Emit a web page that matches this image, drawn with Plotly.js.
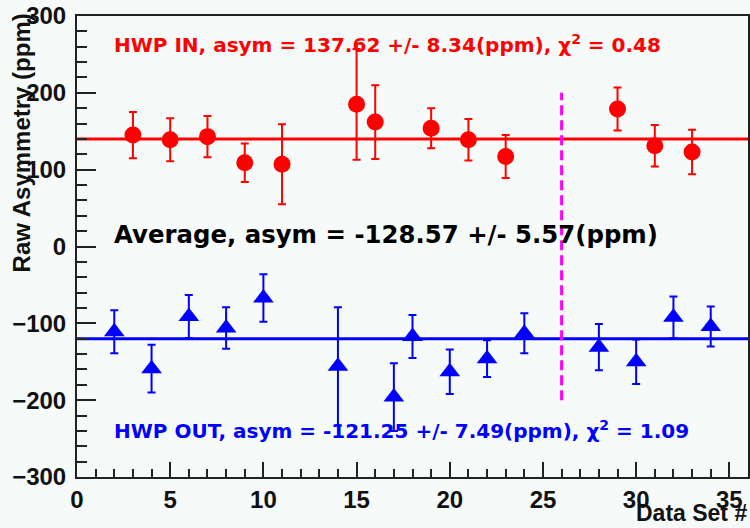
<!DOCTYPE html>
<html>
<head>
<meta charset="utf-8">
<script src="https://cdn.plot.ly/plotly-3.0.1.min.js"></script>
<style>html,body{margin:0;padding:0;background:#f6faf8;}</style>
</head>
<body>
<div id="chart" style="width:750px;height:528px;"></div>
<script>
// HWP IN (red circles)
const inX   = [3, 5, 7, 9, 11, 15, 16, 19, 21, 23, 29, 31, 33];
const inY   = [145, 139, 143, 109, 107, 185, 162, 154, 139, 117, 179, 131, 123];
const inErr = [30, 28, 27, 25, 52, 72, 48, 26, 27, 28, 28, 27, 29];
// HWP OUT (blue triangles)
const outX   = [2, 4, 6, 8, 10, 14, 17, 18, 20, 22, 24, 28, 30, 32, 34];
const outY   = [-111, -159, -91, -106, -67, -156, -196, -117, -163, -146, -113, -131, -150, -92, -104];
const outErr = [28, 31, 28, 27, 31, 77, 44, 28, 29, 24, 26, 30, 29, 27, 26];
// fit lines and divider
const fitX = [0, 36];
const fitIn = [140, 140];
const fitOut = [-120, -120];
const dividerX = [26, 26];
const dividerY = [-200, 200];
// texts
const labelIn = "HWP IN, asym = 137.62 +/- 8.34(ppm), \u03c7<sup>2</sup> = 0.48";
const labelAvg = "Average, asym = -128.57 +/- 5.57(ppm)";
const labelOut = "HWP OUT, asym = -121.25 +/- 7.49(ppm), \u03c7<sup>2</sup> = 1.09";
const xTitle = "Data Set #";
const yTitle = "Raw Asymmetry (ppm)";

const RED = '#ff0000', BLUE = '#0000ff', MAG = '#ff00ff';
const axisFont = {family: 'Liberation Sans, Arial, sans-serif', size: 24, color: '#111', weight: 'bold'};
const titleFont = {family: 'Liberation Sans, Arial, sans-serif', size: 23, color: '#111', weight: 'bold'};
const annFont = {family: 'DejaVu Sans, sans-serif', weight: 'bold'};

const traces = [
  {x: fitX, y: fitIn, mode: 'lines', line: {color: RED, width: 3}, hoverinfo: 'skip', showlegend: false},
  {x: fitX, y: fitOut, mode: 'lines', line: {color: BLUE, width: 3}, hoverinfo: 'skip', showlegend: false},
  {x: dividerX, y: dividerY, mode: 'lines', line: {color: MAG, width: 3, dash: '10px,5px'}, hoverinfo: 'skip', showlegend: false},
  {x: inX, y: inY, mode: 'markers', name: 'HWP IN',
   marker: {symbol: 'circle', size: 17, color: RED},
   error_y: {type: 'data', array: inErr, visible: true, color: RED, thickness: 2, width: 4}},
  {x: outX, y: outY, mode: 'markers', name: 'HWP OUT',
   marker: {symbol: 'triangle-up', size: 18, color: BLUE},
   error_y: {type: 'data', array: outErr, visible: true, color: BLUE, thickness: 2, width: 4}}
];

const layout = {
  width: 750, height: 528,
  margin: {l: 77, r: 2, t: 16, b: 51, pad: 0},
  paper_bgcolor: '#f6faf8', plot_bgcolor: '#f6faf8',
  showlegend: false,
  xaxis: {
    range: [0, 36], tick0: 0, dtick: 5, ticks: 'inside', ticklen: 15, tickwidth: 2, tickcolor: '#222',
    minor: {dtick: 1, ticks: 'inside', ticklen: 8, tickwidth: 2, tickcolor: '#222', showgrid: false},
    showline: true, linecolor: '#222', linewidth: 2, mirror: true,
    showgrid: false, zeroline: false, tickfont: axisFont, ticklabelstandoff: 0
  },
  yaxis: {
    range: [-300, 300], tick0: 0, dtick: 100, ticks: 'inside', ticklen: 19, tickwidth: 2, tickcolor: '#222',
    minor: {dtick: 20, ticks: 'inside', ticklen: 10, tickwidth: 2, tickcolor: '#222', showgrid: false},
    showline: true, linecolor: '#222', linewidth: 2, mirror: true,
    showgrid: false, zeroline: false, tickfont: axisFont, ticklabelstandoff: 4
  },
  annotations: [
    {xref: 'x', yref: 'y', x: 1.9, y: 264, xanchor: 'left', yanchor: 'middle', showarrow: false,
     text: labelIn, font: Object.assign({size: 20, color: RED}, annFont)},
    {xref: 'x', yref: 'y', x: 1.9, y: 15, xanchor: 'left', yanchor: 'middle', showarrow: false,
     text: labelAvg, font: Object.assign({size: 24.4, color: '#000'}, annFont)},
    {xref: 'x', yref: 'y', x: 1.9, y: -239, xanchor: 'left', yanchor: 'middle', showarrow: false,
     text: labelOut, font: Object.assign({size: 20, color: BLUE}, annFont)},
    {xref: 'paper', yref: 'paper', x: 1.0, y: -(528 - 477) / 461, xanchor: 'right', yanchor: 'bottom', yshift: 1,
     showarrow: false, borderpad: 0, text: xTitle, font: titleFont},
    {xref: 'paper', yref: 'paper', x: (22 - 77) / 670, y: (477 - 11) / 461, xanchor: 'center', yanchor: 'top', showarrow: false,
     textangle: -90, text: yTitle, font: axisFont}
  ]
};

Plotly.newPlot('chart', traces, layout, {displayModeBar: false, staticPlot: true});
</script>
</body>
</html>
